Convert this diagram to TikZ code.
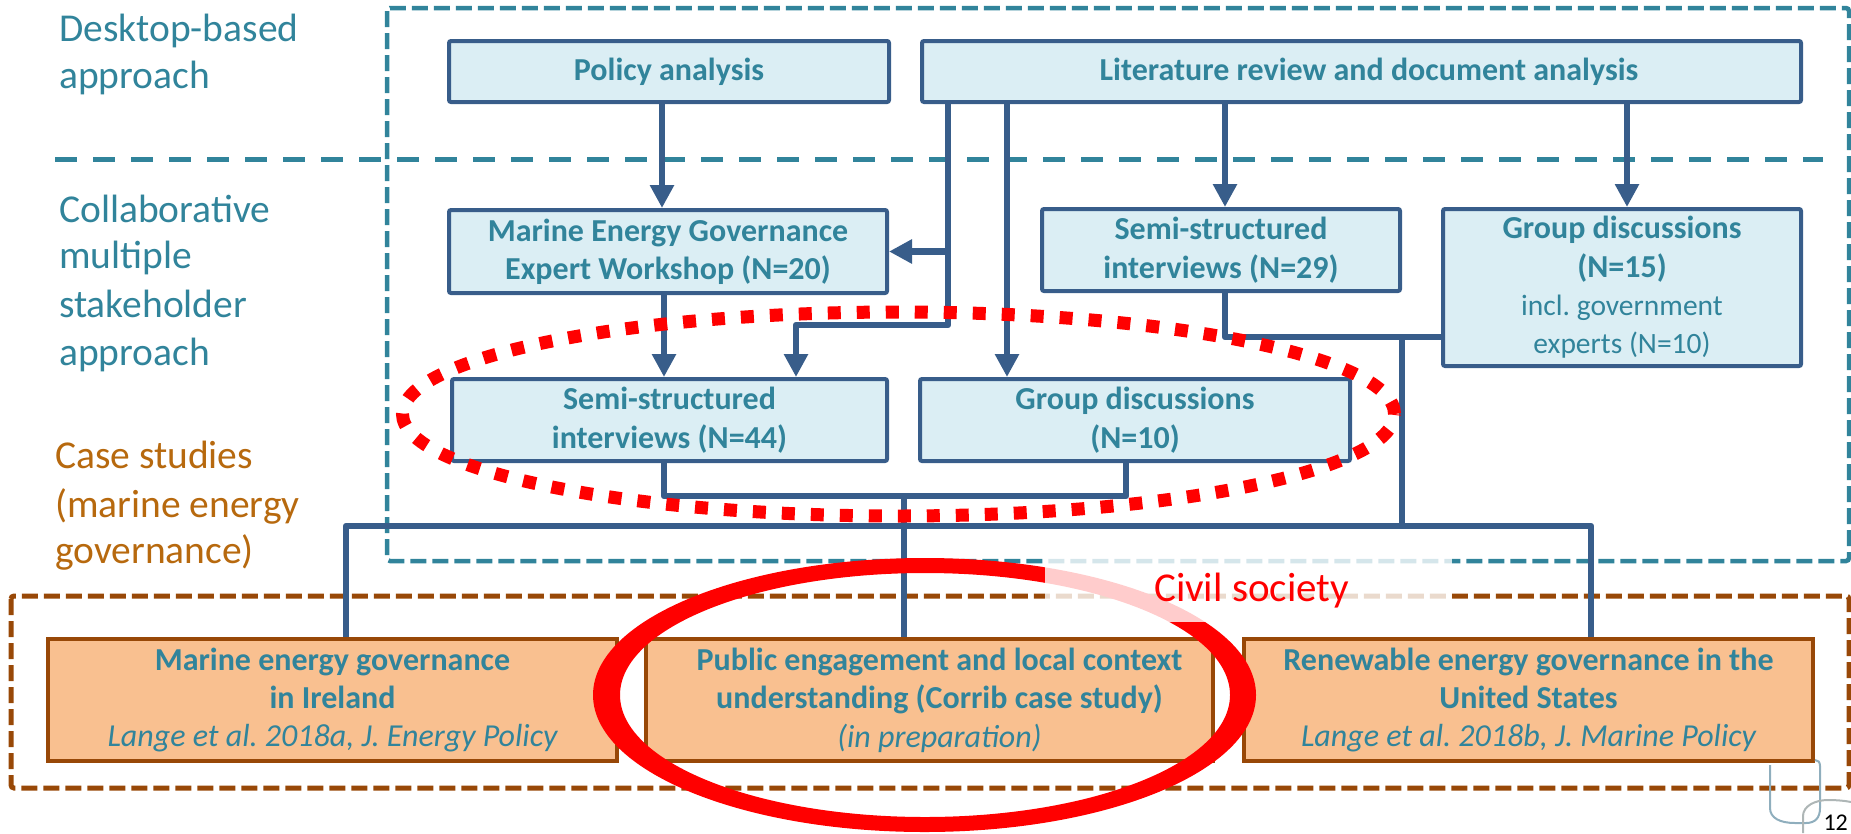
\documentclass[tikz,border=0pt]{standalone}
\usepackage{fontspec}
\setmainfont{Carlito}
\usetikzlibrary{arrows.meta}
\definecolor{boxblue}{HTML}{385D8A}
\definecolor{boxfill}{HTML}{DBEEF4}
\definecolor{tealtext}{HTML}{31849B}
\definecolor{tealdash}{HTML}{31849B}
\definecolor{brownline}{HTML}{984807}
\definecolor{orangefill}{HTML}{F9C090}
\definecolor{casetext}{HTML}{B7690E}
\definecolor{iconA}{HTML}{8FAEBD}
\definecolor{iconB}{HTML}{AEB6B6}
\newcommand{\fsz}[2]{\fontsize{#1}{#2}\selectfont}
\newcommand{\shiftB}{\hspace*{20pt}}
\frenchspacing
\begin{document}
\begin{tikzpicture}[x=1pt,y=-1pt,
  bx/.style={draw=boxblue, fill=boxfill, line width=4pt, rounded corners=2pt, text=tealtext, align=center, inner sep=0pt, font=\bfseries\fsz{32}{38.4}},
  ob/.style={draw=brownline, fill=orangefill, line width=4pt, text=tealtext, align=center, inner sep=0pt, font=\bfseries\fsz{32}{38.4}, minimum height=122pt, minimum width=569pt},
  conn/.style={draw=boxblue, line width=6.5pt, line join=round},
  arr/.style={conn, -{Triangle[length=23pt,width=23pt]}},
  lbl/.style={anchor=base west, inner sep=0pt, text=tealtext, font=\fsz{39.5}{48}},
  clbl/.style={lbl, text=casetext},
  frame/.style={line width=4.5pt, dash pattern=on 16pt off 6pt, rounded corners=3pt},
]
\useasboundingbox (0,0) rectangle (1851,833);

% dashed frames
\draw[frame, tealdash] (387,8) rectangle (1849,561);
\draw[tealdash, line width=5pt, dash pattern=on 22pt off 16pt] (55,159) -- (1823,159);
\draw[frame, brownline, line width=5pt] (11,596) rectangle (1849,788);

% left labels
\node[lbl] (d1) at (59,41) {Desktop-based};
\node[lbl] (d2) at (59,88) {approach};
\node[lbl] (c1) at (59,222) {Collaborative};
\node[lbl] (c2) at (59,268) {multiple};
\node[lbl] (c3) at (59,317) {stakeholder};
\node[lbl] (c4) at (59,365) {approach};
\node[clbl] (s1) at (55,468) {Case studies};
\node[clbl] (s2) at (55,517) {(marine energy};
\node[clbl] (s3) at (55,563) {governance)};

% boxes
\node[bx, minimum width=440pt, minimum height=61pt] (policy) at (669,71.5) {Policy analysis};
\node[bx, minimum width=879pt, minimum height=61pt] (lit) at (1361.5,71.5) {\hspace*{15pt}Literature review and document analysis};
\node[bx, minimum width=438pt, minimum height=83pt] (workshop) at (668,251.5) {Marine Energy Governance\\Expert Workshop (N=20)};
\node[bx, minimum width=358pt, minimum height=82pt] (semi29) at (1221,250) {Semi-structured\\interviews (N=29)};
\node[bx, minimum width=358pt, minimum height=157pt] (grp15) at (1622,287.5) {Group discussions\\(N=15)\\{\mdseries\fsz{29.5}{37}incl. government}\\{\mdseries\fsz{29.5}{37}experts (N=10)}};
\node[bx, minimum width=435pt, minimum height=82pt] (semi44) at (669.5,420) {Semi-structured\\interviews (N=44)};
\node[bx, minimum width=430pt, minimum height=82pt] (grp10) at (1135,420) {Group discussions\\(N=10)};
\node[ob] (caseA) at (332.5,700) {Marine energy governance\\in Ireland\\{\mdseries\itshape Lange et al. 2018a, J. Energy Policy}};
\node[ob, minimum width=567pt] (caseB) at (929.5,700) {\shiftB Public engagement and local context\\\shiftB understanding (Corrib case study)\\\shiftB{\mdseries\itshape (in preparation)}};
\node[ob] (caseC) at (1528.5,700) {Renewable energy governance in the\\United States\\{\mdseries\itshape Lange et al. 2018b, J. Marine Policy}};

% connector coordinates
\coordinate (trA) at (948,0);
\coordinate (trB) at (1007,0);
\coordinate (jB) at (796,325);
\coordinate (midB) at (904,496);
\coordinate (midR) at (1402,337);
\coordinate (hA) at (346,526);
\coordinate (hR) at (1402,526);
\coordinate (hC) at (1591,526);

% connectors
\draw[arr] ([xshift=-7pt]policy.south) -- ([xshift=-7pt]policy.south |- workshop.north);
\draw[arr] ([xshift=4pt]semi29.north |- lit.south) -- ([xshift=4pt]semi29.north);
\draw[arr] ([xshift=5pt]grp15.north |- lit.south) -- ([xshift=5pt]grp15.north);
\draw[arr] (trA |- lit.south) |- (jB) -- (jB |- semi44.north);
\draw[arr] (trA |- workshop.east) -- (workshop.east);
\draw[arr] (trB |- lit.south) -- (trB |- grp10.north);
\draw[arr] ([xshift=-4pt]workshop.south) -- ([xshift=-4pt]workshop.south |- semi44.north);
\draw[conn] ([xshift=-5.5pt]semi44.south) |- (midB) -| ([xshift=-9pt]grp10.south);
\draw[conn] (midB) -- (midB |- caseB.north);
\draw[conn] ([xshift=4pt]semi29.south) |- (grp15.west |- midR);
\draw[conn] (midR) -- (hR);
\draw[conn] (hA |- caseA.north) -- (hA) -- (hC) -- (hC |- caseC.north);

% red highlights
\draw[red, line width=13pt, dash pattern=on 13pt off 16pt] (898.5,414) ellipse [x radius=496pt, y radius=102pt];
\fill[red, even odd rule] (924.5,695) ellipse [x radius=331.5pt, y radius=137pt] (925,695) ellipse [x radius=305pt, y radius=122pt];
\fill[white, opacity=0.8] (1045,545) rectangle (1452,622);
\node[anchor=base west, inner sep=0pt, text=red, font=\fsz{41}{49}] (civil) at (1154,601) {Civil society};

% page decoration
\draw[iconA, line width=2pt] (1770,765) -- (1770,808) .. controls (1770,818) and (1780,823) .. (1795,823) -- (1806,823) .. controls (1815,823) and (1820,818) .. (1820,808) -- (1820,766) .. controls (1820,762) and (1818,760) .. (1815,760);
\draw[iconB, line width=2pt] (1803,833) -- (1803,816) .. controls (1803,806) and (1815,800) .. (1828,800) .. controls (1838,800) and (1846,801) .. (1851,802);
\node[anchor=base east, inner sep=0pt, font=\fsz{24}{28}] (pg) at (1848,830) {12};
\end{tikzpicture}
\end{document}
